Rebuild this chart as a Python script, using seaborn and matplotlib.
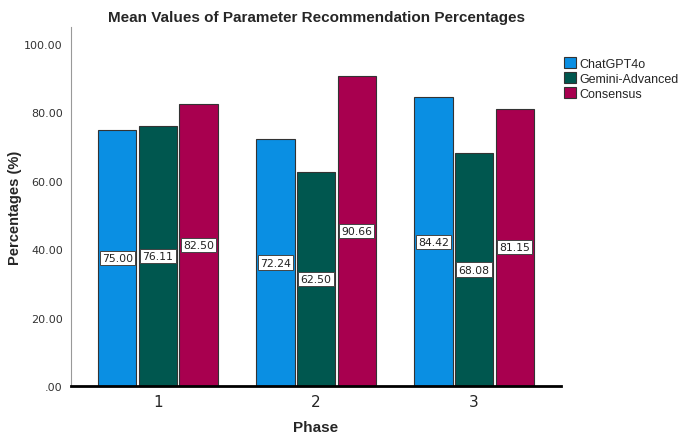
import matplotlib
matplotlib.use("Agg")
import matplotlib.pyplot as plt
import seaborn as sns
import pandas as pd
from matplotlib.ticker import FuncFormatter

# values
phases = ["1", "2", "3"]
models = ["ChatGPT4o", "Gemini-Advanced", "Consensus"]
chatgpt = [75.00, 72.24, 84.42]
gemini = [76.11, 62.50, 68.08]
consensus = [82.50, 90.66, 81.15]

colors = ["#0a8fe3", "#00574f", "#a8004f"]

df = pd.DataFrame({
    "Phase": phases * 3,
    "Model": [m for m in models for _ in phases],
    "Value": chatgpt + gemini + consensus,
})

sns.set_style("white")
plt.rcParams["font.family"] = ["DejaVu Sans"]

fig = plt.figure(figsize=(6.85, 4.35), dpi=100)
ax = fig.add_axes([0.1037, 0.1103, 0.7153, 0.8253])

sns.barplot(data=df, x="Phase", y="Value", hue="Model", palette=colors,
            width=0.77, gap=0.06, edgecolor="#333333", linewidth=0.8,
            saturation=1, ax=ax)

# value labels at half bar height
for cont in ax.containers:
    for bar in cont:
        h = bar.get_height()
        ax.text(bar.get_x() + bar.get_width() / 2, h / 2, f"{h:.2f}",
                ha="center", va="center", fontsize=7.8, color="#222222",
                bbox=dict(boxstyle="square,pad=0.2", fc="white", ec="#444444", lw=0.7))

ax.set_xlim(-0.55, 2.55)
ax.set_ylim(0, 105)
ax.set_yticks([0, 20, 40, 60, 80, 100])
ax.yaxis.set_major_formatter(FuncFormatter(lambda v, p: ".00" if v == 0 else f"{v:.2f}"))
ax.tick_params(axis="y", labelsize=8, colors="#333333", length=0, pad=6)
ax.tick_params(axis="x", labelsize=11, length=0, pad=6)

for s in ["top", "right"]:
    ax.spines[s].set_visible(False)
ax.spines["left"].set_color("#999999")
ax.spines["left"].set_linewidth(0.8)
ax.spines["bottom"].set_color("black")
ax.spines["bottom"].set_linewidth(2)

narrow = ["Liberation Sans", "DejaVu Sans"]
ax.set_title("Mean Values of Parameter Recommendation Percentages",
             fontsize=11, fontweight="bold", family=narrow, pad=4)
ax.set_xlabel("Phase", fontsize=11, fontweight="bold", family=narrow, va="center")
ax.set_ylabel("Percentages (%)", fontsize=10.5, fontweight="bold", family=narrow, va="center")
ax.xaxis.set_label_coords(0.5, -0.114)
ax.yaxis.set_label_coords(-0.114, 0.5)

leg = ax.legend(loc="upper left", bbox_to_anchor=(0.995, 0.93), frameon=False,
                prop={"family": narrow, "size": 9}, handlelength=1.0,
                handleheight=1.0, handletextpad=0.3, labelspacing=0.15,
                borderaxespad=0)

fig.savefig("out.png", dpi=100)
